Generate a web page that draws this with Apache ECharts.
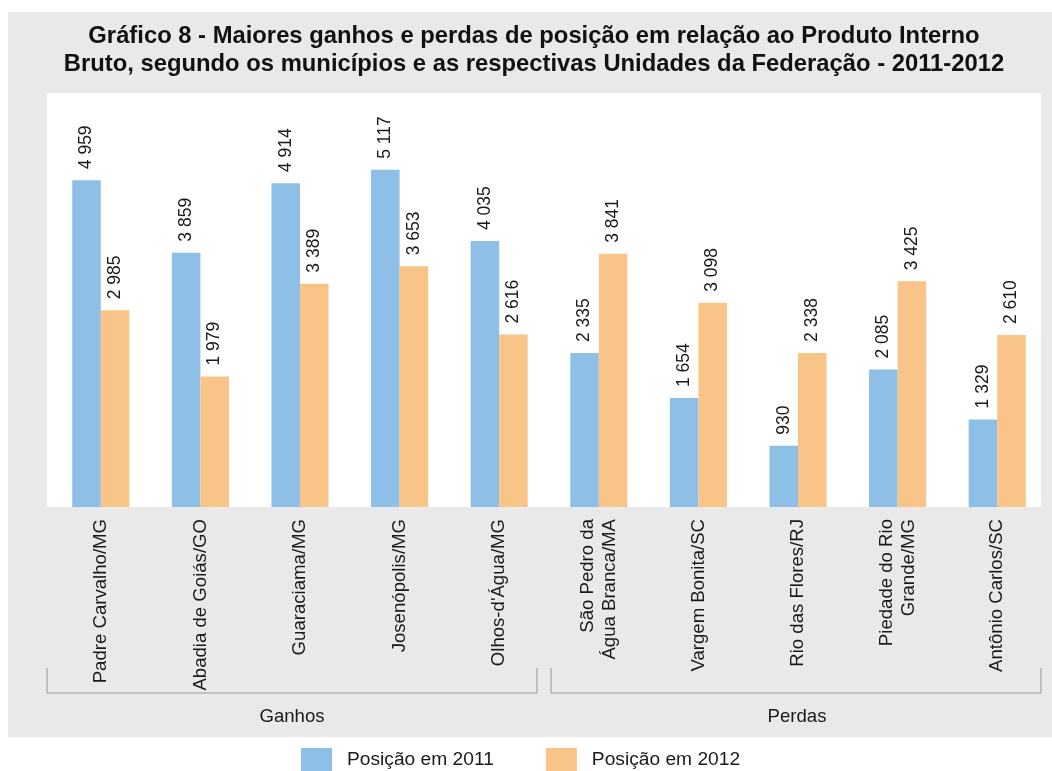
<!DOCTYPE html>
<html>
<head>
<meta charset="utf-8">
<script src="https://cdn.jsdelivr.net/npm/echarts@6/dist/echarts.min.js"></script>
<style>html,body{margin:0;padding:0;background:#fff;}#c{width:1052px;height:771px;}</style>
</head>
<body>
<div id="c"></div>
<script>
const categories = ['Padre Carvalho/MG', 'Abadia de Goiás/GO', 'Guaraciama/MG', 'Josenópolis/MG', "Olhos-d'Água/MG",
  'São Pedro da\nÁgua Branca/MA', 'Vargem Bonita/SC', 'Rio das Flores/RJ', 'Piedade do Rio\nGrande/MG', 'Antônio Carlos/SC'];
const pos2011 = [4959, 3859, 4914, 5117, 4035, 2335, 1654, 930, 2085, 1329];
const pos2012 = [2985, 1979, 3389, 3653, 2616, 3841, 3098, 2338, 3425, 2610];
const seriesNames = ['Posição em 2011', 'Posição em 2012'];
const groups = ['Ganhos', 'Perdas'];
const titleText = 'Gráfico 8 - Maiores ganhos e perdas de posição em relação ao Produto Interno\nBruto, segundo os municípios e as respectivas Unidades da Federação - 2011-2012';

const FONT = "'Liberation Sans', Arial, sans-serif";
const fmt = v => String(v).replace(/\B(?=(\d{3})+(?!\d))/g, ' ');
const chart = echarts.init(document.getElementById('c'), null, {renderer: 'canvas'});

const labelCfg = {
  show: true, position: 'top', rotate: 90, align: 'left', verticalAlign: 'middle', distance: 11,
  fontFamily: FONT, fontSize: 17.5, color: '#1a1a1a',
  formatter: p => fmt(p.value)
};
const bracketStyle = {stroke: '#b4b4b4', lineWidth: 1.5, fill: null};

chart.setOption({
  backgroundColor: '#ffffff',
  animation: false,
  title: {
    text: titleText, left: 534, top: 22, padding: 0, textAlign: 'center',
    textStyle: {fontFamily: FONT, fontSize: 23.8, fontWeight: 'bold', color: '#111', lineHeight: 28}
  },
  legend: {
    left: 296, top: 743, itemWidth: 31, itemHeight: 24, itemGap: 52,
    icon: 'rect',
    textStyle: {fontFamily: FONT, fontSize: 19.2, color: '#1a1a1a', padding: [0, 0, 0, 10]},
    data: seriesNames
  },
  grid: {left: 51, right: 5, top: 93, bottom: 264, containLabel: false},
  xAxis: {
    type: 'category', data: categories,
    axisLine: {show: false}, axisTick: {show: false},
    axisLabel: {interval: 0, rotate: 90, margin: 12, fontFamily: FONT, fontSize: 18.6, lineHeight: 22, color: '#1a1a1a'}
  },
  yAxis: {type: 'value', min: 0, max: 6282, show: false, splitLine: {show: false}},
  graphic: [
    {type: 'rect', z: -10, shape: {x: 8, y: 12, width: 1044, height: 725}, style: {fill: '#e9e9e9'}},
    {type: 'rect', z: -9, shape: {x: 47, y: 93, width: 994, height: 414}, style: {fill: '#ffffff'}},
    {type: 'polyline', z: -8, shape: {points: [[47, 668], [47, 693], [537, 693], [537, 668]]}, style: bracketStyle},
    {type: 'polyline', z: -8, shape: {points: [[551, 668], [551, 693], [1041, 693], [1041, 668]]}, style: bracketStyle},
    {type: 'text', x: 292, y: 717, style: {text: groups[0], fontFamily: FONT, fontSize: 18.6, fill: '#1a1a1a', align: 'center', verticalAlign: 'middle'}},
    {type: 'text', x: 797, y: 717, style: {text: groups[1], fontFamily: FONT, fontSize: 18.6, fill: '#1a1a1a', align: 'center', verticalAlign: 'middle'}}
  ],
  series: [
    {name: seriesNames[0], type: 'bar', data: pos2011, barGap: '0%', barCategoryGap: '42.7%',
      itemStyle: {color: '#8ebfe6'}, label: labelCfg},
    {name: seriesNames[1], type: 'bar', data: pos2012, barGap: '0%', barCategoryGap: '42.7%',
      itemStyle: {color: '#f8c487'}, label: labelCfg}
  ]
});
</script>
</body>
</html>
